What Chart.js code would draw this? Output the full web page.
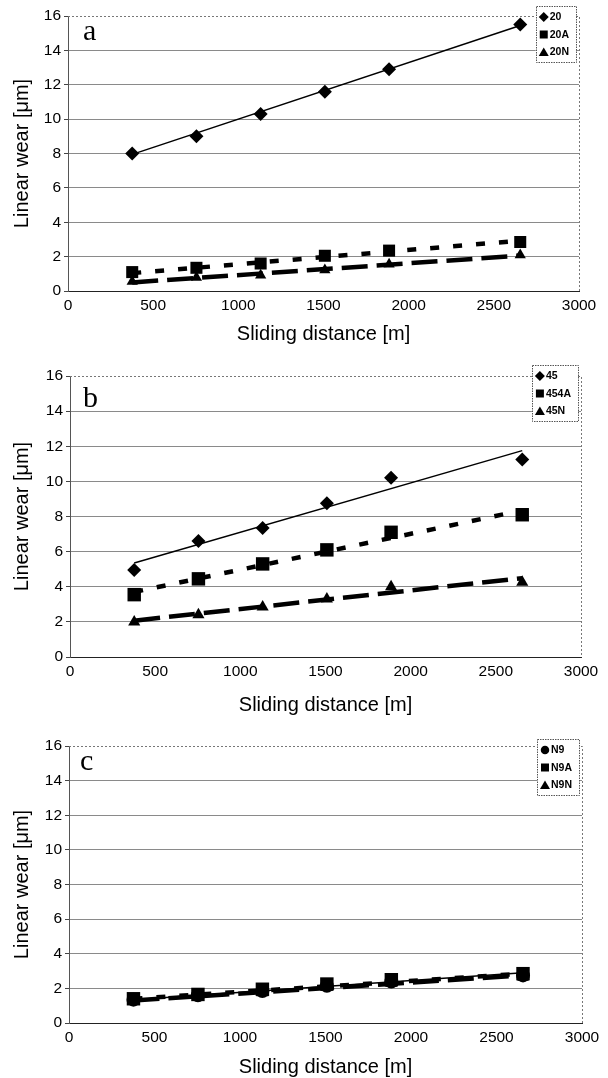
<!DOCTYPE html>
<html><head><meta charset="utf-8">
<script src="https://cdn.jsdelivr.net/npm/chart.js@4.4.1/dist/chart.umd.min.js"></script>
<style>
html,body{margin:0;padding:0;background:#fff;width:608px;height:1078px;overflow:hidden}
canvas{position:absolute;left:0}
</style></head><body>
<canvas id="ca" width="608" height="345" style="top:0px"></canvas>
<canvas id="cb" width="608" height="362" style="top:360px"></canvas>
<canvas id="cc" width="608" height="348" style="top:730px"></canvas>
<script>
// ---- data ----
const distance = [377, 754, 1131, 1508, 1885, 2655];
const trendX = [377, 2655];
const xTickStep = 500, xMin = 0, xMax = 3000;
const yTickStep = 2, yMin = 0, yMax = 16;

// panel a
const labelsA = ['20', '20A', '20N'];
const wear20  = [8.0, 9.0, 10.3, 11.6, 12.9, 15.5];
const wear20A = [1.1, 1.35, 1.6, 2.05, 2.35, 2.85];
const wear20N = [0.55, 0.78, 0.92, 1.22, 1.55, 2.1];
const trend20  = [7.95, 15.45];
const trend20A = [1.04, 2.93];
const trend20N = [0.5, 2.06];

// panel b
const labelsB = ['45', '454A', '45N'];
const wear45   = [4.95, 6.6, 7.35, 8.75, 10.2, 11.25];
const wear454A = [3.55, 4.45, 5.3, 6.1, 7.1, 8.1];
const wear45N  = [2.0, 2.4, 2.85, 3.3, 4.0, 4.25];
const trend45   = [5.35, 11.75];
const trend454A = [3.7, 8.35];
const trend45N  = [2.07, 4.49];

// panel c
const labelsC = ['N9', 'N9A', 'N9N'];
const wearN9  = [1.35, 1.6, 1.85, 2.15, 2.4, 2.75];
const wearN9A = [1.4, 1.65, 1.95, 2.25, 2.5, 2.85];
const wearN9N = [1.3, 1.5, 1.75, 2.05, 2.3, 2.65];
const trendN9  = [1.35, 2.9];
const trendN9A = [1.4, 2.85];
const trendN9N = [1.3, 2.75];

const xTitle = 'Sliding distance [m]';
const yTitle = 'Linear wear [\u03bcm]';
const FONT = '"Liberation Sans", Arial, sans-serif';

function pts(xs, ys) { return xs.map((x, i) => ({x: x, y: ys[i]})); }

function drawMarker(ctx, style, x, y, r) {
  ctx.beginPath();
  if (style === 'rectRot') {
    ctx.moveTo(x - r, y); ctx.lineTo(x, y - r); ctx.lineTo(x + r, y); ctx.lineTo(x, y + r);
  } else if (style === 'rect') {
    const s = r * 0.8; ctx.rect(x - s, y - s, 2 * s, 2 * s);
  } else if (style === 'triangle') {
    ctx.moveTo(x - r, y + r * 0.8); ctx.lineTo(x, y - r * 0.9); ctx.lineTo(x + r, y + r * 0.8);
  } else {
    ctx.arc(x, y, r * 0.85, 0, Math.PI * 2);
  }
  ctx.closePath(); ctx.fill();
}

const panelPlugin = {
  id: 'panel',
  afterDraw(chart, args, o) {
    const ctx = chart.ctx, a = chart.chartArea;
    ctx.save();
    // top and right frame
    ctx.strokeStyle = '#777'; ctx.lineWidth = 1; ctx.setLineDash([2, 2]);
    ctx.beginPath();
    ctx.moveTo(a.left, a.top + 0.5); ctx.lineTo(a.right + 0.5, a.top + 0.5); ctx.lineTo(a.right + 0.5, a.bottom);
    ctx.stroke();
    ctx.setLineDash([]);
    // panel letter
    ctx.fillStyle = '#000';
    ctx.font = '30px "Liberation Serif", serif';
    ctx.textBaseline = 'alphabetic'; ctx.textAlign = 'left';
    ctx.fillText(o.letter, a.left + o.lx, a.top + o.ly);
    // legend
    const items = chart.data.datasets.filter(d => d.inLegend);
    ctx.font = 'bold 10.5px ' + FONT;
    let tw = 0; items.forEach(d => { tw = Math.max(tw, ctx.measureText(d.label).width); });
    const w = 15 + tw + 6, h = 56;
    const right = a.right - 3, left = right - w, top = a.top + o.legTop;
    ctx.fillStyle = '#fff'; ctx.fillRect(left, top, w, h);
    ctx.strokeStyle = '#555'; ctx.lineWidth = 1; ctx.setLineDash([1.5, 1]);
    ctx.strokeRect(Math.round(left) + 0.5, Math.round(top) + 0.5, Math.round(w), h);
    ctx.setLineDash([]);
    ctx.fillStyle = '#000'; ctx.textBaseline = 'middle';
    const order = ['rectRot', 'circle', 'rect', 'triangle'];
    items.slice().sort((p, q) => order.indexOf(p.pointStyle) - order.indexOf(q.pointStyle)).forEach((d, i) => {
      const y = top + 11 + i * 17.5;
      drawMarker(ctx, d.pointStyle, left + 8, y, 5);
      ctx.fillText(d.label, left + 14, y + 0.5);
    });
    ctx.restore();
  }
};

function makePanel(id, canvasTop, canvasH, plotTop, plotBottom, plotLeft, plotRight, titleCenter, letter, lx, ly, legTop, series) {
  const xH = canvasH - (plotBottom - canvasTop);
  const titlePadB = canvasTop + canvasH - titleCenter - 12;
  const datasets = [];
  series.forEach(s => {
    datasets.push({
      label: s.label, inLegend: true, data: pts(distance, s.values), showLine: false,
      pointStyle: s.style, pointRadius: s.r, pointHoverRadius: s.r,
      backgroundColor: '#000', borderColor: '#000', pointBorderWidth: 0, order: s.order
    });
  });
  series.forEach(s => {
    datasets.push({
      label: s.label + ' trend', inLegend: false, data: pts(trendX, s.trend), showLine: true,
      pointRadius: 0, borderColor: '#000', borderWidth: s.lw, borderDash: s.dash,
      fill: false, tension: 0, order: 5
    });
  });
  return new Chart(document.getElementById(id), {
    type: 'line',
    data: { datasets: datasets },
    plugins: [panelPlugin],
    options: {
      responsive: false, animation: false, devicePixelRatio: 1,
      layout: { padding: { top: plotTop - canvasTop, left: 0, right: 608 - plotRight, bottom: 0 } },
      plugins: {
        legend: { display: false }, tooltip: { enabled: false },
        panel: { letter: letter, lx: lx, ly: ly, legTop: legTop }
      },
      scales: {
        x: {
          type: 'linear', min: xMin, max: xMax,
          afterFit(s) { s.height = xH; },
          ticks: { stepSize: xTickStep, color: '#000', font: { family: FONT, size: 15.5 }, padding: 5, maxRotation: 0,
                   callback: v => String(v) },
          grid: { display: false, drawTicks: false },
          border: { display: true, color: '#222', width: 1 },
          title: { display: true, text: xTitle, color: '#000', font: { family: FONT, size: 20 }, padding: { top: 0, bottom: titlePadB } }
        },
        y: {
          type: 'linear', min: yMin, max: yMax,
          afterFit(s) { s.width = plotLeft; },
          ticks: { stepSize: yTickStep, color: '#000', font: { family: FONT, size: 15.5 }, padding: 3, callback: v => String(v) },
          grid: {
            color: c => (c.tick && (c.tick.value === yMax || c.tick.value === yMin)) ? 'rgba(0,0,0,0)' : '#8a8a8a',
            lineWidth: 1, drawTicks: true, tickLength: 4, tickColor: '#444'
          },
          border: { display: true, color: '#555', width: 1 },
          title: { display: true, text: yTitle, color: '#000', font: { family: FONT, size: 20 }, padding: { top: 10, bottom: 0 } }
        }
      }
    }
  });
}

const shortDash = [9, 14], longDash = [26, 9];

makePanel('ca', 0, 345, 16, 291, 68, 579, 334, 'a', 15, 24, -10, [
  { label: labelsA[0], values: wear20,  trend: trend20,  style: 'rectRot', r: 7, lw: 1.5, dash: [], order: 2 },
  { label: labelsA[1], values: wear20A, trend: trend20A, style: 'rect',    r: 8.5, lw: 4.5, dash: shortDash, order: 0 },
  { label: labelsA[2], values: wear20N, trend: trend20N, style: 'triangle', r: 6.5, lw: 4.5, dash: longDash, order: 1 }
]);
makePanel('cb', 360, 362, 376, 657, 70, 581, 705, 'b', 13, 31, -11, [
  { label: labelsB[0], values: wear45,   trend: trend45,   style: 'rectRot', r: 7, lw: 1.5, dash: [], order: 2 },
  { label: labelsB[1], values: wear454A, trend: trend454A, style: 'rect',    r: 9.5, lw: 4.5, dash: shortDash, order: 0 },
  { label: labelsB[2], values: wear45N,  trend: trend45N,  style: 'triangle', r: 7, lw: 4.5, dash: longDash, order: 1 }
]);
makePanel('cc', 730, 348, 746, 1023, 69, 582, 1067, 'c', 11, 24, -7, [
  { label: labelsC[0], values: wearN9,  trend: trendN9,  style: 'circle', r: 7, lw: 1.5, dash: [], order: 2 },
  { label: labelsC[1], values: wearN9A, trend: trendN9A, style: 'rect',   r: 9.5, lw: 4.5, dash: shortDash, order: 0 },
  { label: labelsC[2], values: wearN9N, trend: trendN9N, style: 'triangle', r: 7, lw: 4.5, dash: longDash, order: 1 }
]);
</script>
</body></html>
